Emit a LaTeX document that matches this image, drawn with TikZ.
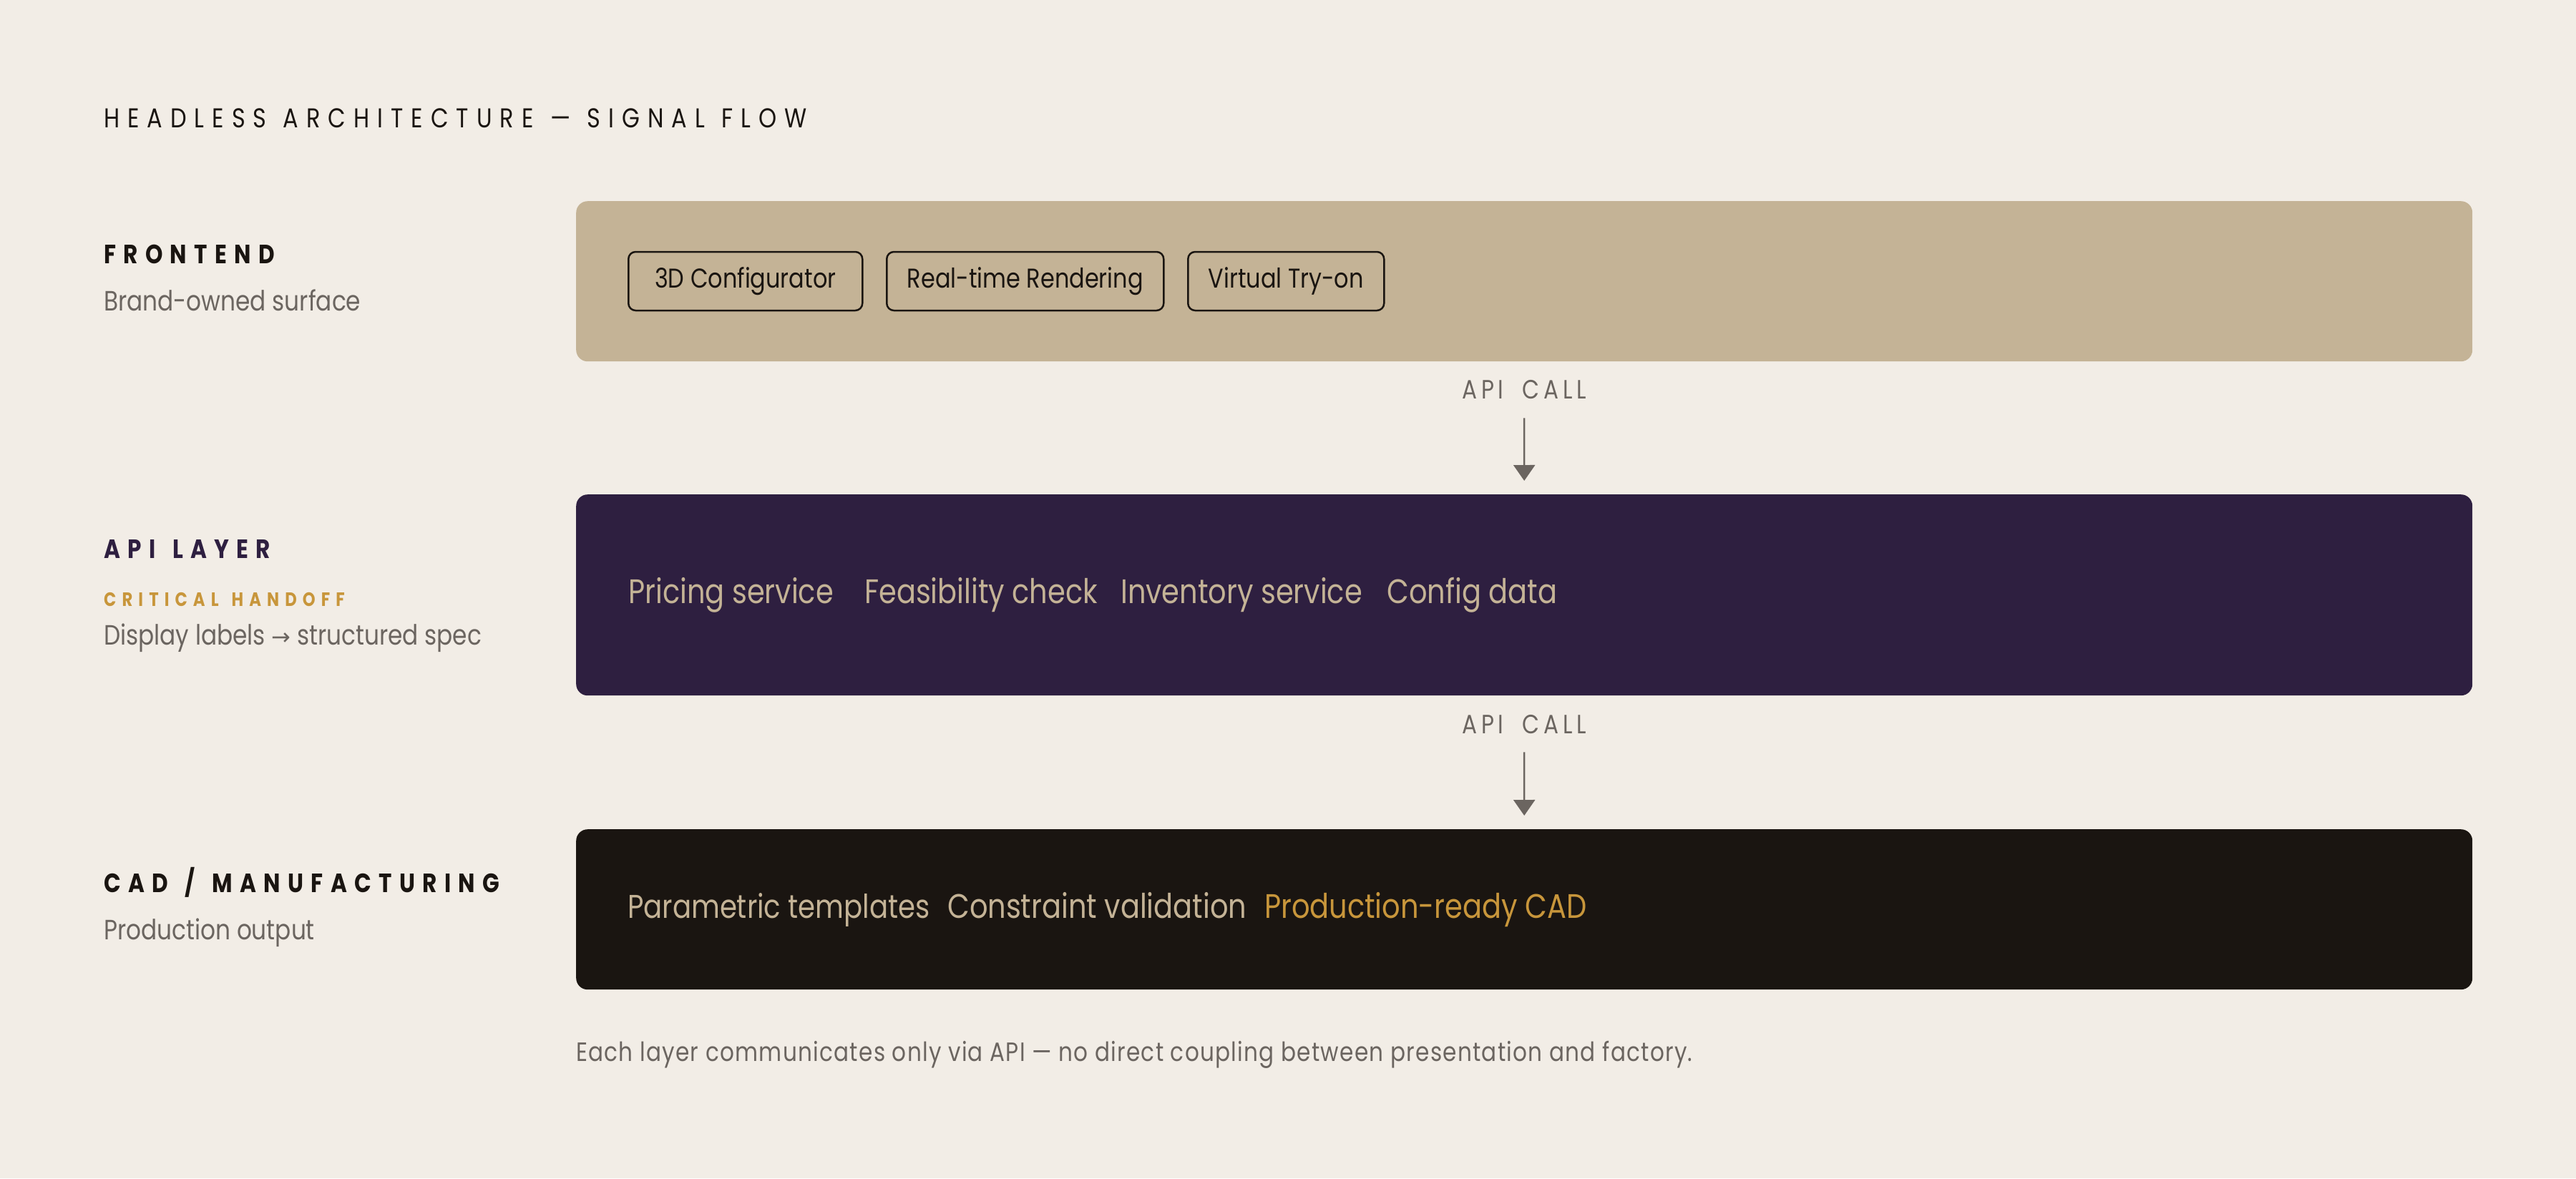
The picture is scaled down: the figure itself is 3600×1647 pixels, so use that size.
\documentclass[tikz,border=0pt]{standalone}
\usepackage{fontspec}
\setmainfont{Poppins}[FakeStretch=0.84]
\newfontfamily\titlefont{Poppins}[FakeStretch=0.84,LetterSpace=29,WordSpace=1.2]
\newfontfamily\headfont{Poppins}[FakeStretch=0.84,LetterSpace=28,WordSpace=1.4]
\newfontfamily\tagfont{Poppins}[FakeStretch=0.84,LetterSpace=30,WordSpace=1.4]
\newfontfamily\callfont{Poppins}[FakeStretch=0.84,LetterSpace=16,WordSpace=1.8]
\newfontfamily\footfont{Poppins}[FakeStretch=0.84,LetterSpace=3.5]
\newfontfamily\symfont{DejaVu Sans}
\usetikzlibrary{arrows.meta}

\definecolor{paper}{HTML}{F2EDE6}
\definecolor{sand}{HTML}{C4B396}
\definecolor{plum}{HTML}{2E1F40}
\definecolor{ink}{HTML}{1A1511}
\definecolor{muted}{HTML}{6B6560}
\definecolor{gold}{HTML}{C8963B}

\tikzset{
  layer/.style={rounded corners=16pt, minimum width=2650pt, anchor=north west, inner sep=0pt},
  chip/.style={draw=ink, line width=2.5pt, rounded corners=10pt, minimum height=82pt,
    inner sep=0pt, anchor=west, text=ink, font=\fontsize{38}{40}\selectfont},
  heading/.style={anchor=base west, inner sep=0pt, text=ink, font=\headfont\bfseries\fontsize{37}{40}\selectfont},
  note/.style={anchor=base west, inner sep=0pt, text=muted, font=\fontsize{39}{42}\selectfont},
  item/.style={anchor=base west, inner sep=0pt, text=sand, font=\fontsize{47.5}{50}\selectfont},
  call/.style={anchor=base, inner sep=0pt, text=muted, font=\callfont\fontsize{37}{40}\selectfont},
  flow/.style={draw=muted, line width=2.5pt, -{Triangle[width=30pt,length=22pt]}},
}

\begin{document}
\begin{tikzpicture}[x=1pt,y=-1pt]
\fill[paper] (0,0) rectangle (3600,1647);
\useasboundingbox (0,0) rectangle (3600,1647);

\node[heading, font=\titlefont\fontsize{38}{40}\selectfont] (title) at (145,178) {HEADLESS ARCHITECTURE — SIGNAL FLOW};

% frontend layer
\node[layer, fill=sand, minimum height=224pt] (front) at (805,281) {};
\node[heading] (frontlbl) at (145,368) {FRONTEND};
\node[note] (frontsub) at (145,434) {Brand-owned surface};
\node[chip, minimum width=327pt] (config) at (877,393) {3D Configurator};
\node[chip, minimum width=387pt] (render) at (1238,393) {Real-time Rendering};
\node[chip, minimum width=274pt] (tryon) at (1659,393) {Virtual Try-on};

% api layer
\node[layer, fill=plum, minimum height=281pt] (api) at (805,691) {};
\node[heading, text=plum] (apilbl) at (145,780) {API LAYER};
\node[heading, text=gold, font=\tagfont\bfseries\fontsize{27}{29}\selectfont] (handoff) at (145,847) {CRITICAL HANDOFF};
\node[note] (apisub) at (145,901) {Display labels {\symfont\fontsize{32}{34}\selectfont →} structured spec};
\node[item] (pricing) at (878,843) {Pricing service};
\node[item] (feasible) at (1208,843) {Feasibility check};
\node[item] (stock) at (1566,843) {Inventory service};
\node[item] (cfgdata) at (1938,843) {Config data};

% cad layer
\node[layer, fill=ink, minimum height=224pt] (cad) at (805,1159) {};
\node[heading] (cadlbl) at (145,1247) {CAD / MANUFACTURING};
\node[note] (cadsub) at (145,1313) {Production output};
\node[item, font=\fontsize{46}{50}\selectfont] (templates) at (877,1283) {Parametric templates};
\node[item] (validate) at (1324,1283) {Constraint validation};
\node[item, text=gold] (output) at (1767,1283) {Production-ready CAD};

% signal flow
\node[call] (callA) at (2130,557) {API CALL};
\node[call] (callB) at (2130,1025) {API CALL};
\draw[flow, shorten <=27pt, shorten >=19pt] (callA.south) -- (api.north);
\draw[flow, shorten <=26pt, shorten >=19pt] (callB.south) -- (cad.north);

\node[note, font=\footfont\fontsize{37}{40}\selectfont] (footer) at (805,1483) {Each layer communicates only via API — no direct coupling between presentation and factory.};
\end{tikzpicture}
\end{document}
